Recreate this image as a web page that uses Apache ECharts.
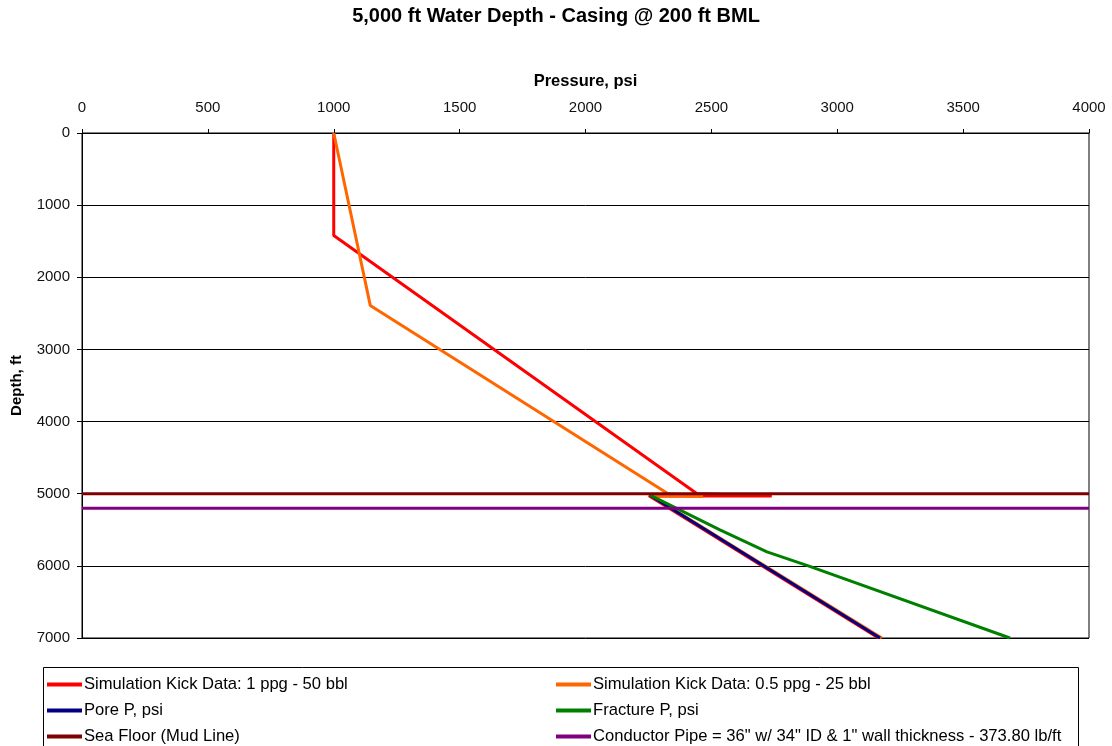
<!DOCTYPE html>
<html>
<head>
<meta charset="utf-8">
<script src="https://cdn.jsdelivr.net/npm/echarts@6/dist/echarts.min.js"></script>
<style>
  html, body { margin: 0; padding: 0; background: #fff; }
  #chart { width: 1112px; height: 746px; }
</style>
</head>
<body>
<div id="chart"></div>
<script>
// Pressure (psi) vs depth (ft) profiles
const kick1ppg = [[1000, 0], [1000, 1420], [2443, 5000], [2740, 5032], [2252, 5028], [3164, 7000]];
const kick05ppg = [[1000, 0], [1145, 2390], [2328, 5000], [2467, 5040], [2262, 5030], [3177, 7000]];
const porePressure = [[2256, 5020], [3170, 7000]];
const fracturePressure = [[2256, 5020], [2534, 5500], [2721, 5807], [2885, 6000], [3686, 7000]];
const seaFloor = [[0, 5000], [4000, 5000]];
const conductorPipe = [[0, 5200], [4000, 5200]];

const seriesNames = [
  'Simulation Kick Data: 1 ppg - 50 bbl',
  'Simulation Kick Data: 0.5 ppg - 25 bbl',
  'Pore P, psi',
  'Fracture P, psi',
  'Sea Floor (Mud Line)',
  'Conductor Pipe = 36" w/ 34" ID & 1" wall thickness - 373.80 lb/ft'
];
const seriesData = [kick1ppg, kick05ppg, porePressure, fracturePressure, seaFloor, conductorPipe];
const seriesColors = ['#ff0000', '#ff6600', '#000080', '#008000', '#800000', '#800080'];

const FONT = '"Liberation Sans", Arial, sans-serif';
const chart = echarts.init(document.getElementById('chart'), null, { renderer: 'canvas' });

// Legend: two columns, three rows, one entry per legend component
const legendRows = [676, 702, 728];
const legendCols = [47, 556];
const legends = seriesNames.map((name, i) => ({
  data: [name],
  left: legendCols[i % 2],
  top: legendRows[Math.floor(i / 2)],
  orient: 'horizontal',
  itemWidth: 35,
  itemHeight: 4,
  itemGap: 0,
  icon: 'rect',
  selectedMode: false,
  padding: 0,
  textStyle: { fontFamily: FONT, fontSize: 16.6, color: '#000', padding: [0, 0, 0, -3] }
}));

chart.setOption({
  animation: false,
  backgroundColor: '#fff',
  title: {
    text: '5,000 ft Water Depth - Casing @ 200 ft BML',
    left: 'center',
    top: 1,
    textStyle: { fontFamily: FONT, fontSize: 20, fontWeight: 'bold', color: '#000' }
  },
  grid: {
    left: 82, right: 23, top: 133, bottom: 108,
    show: true, borderColor: '#000', borderWidth: 1
  },
  legend: legends,
  graphic: [{
    type: 'rect',
    shape: { x: 43.5, y: 667.5, width: 1035, height: 100 },
    style: { fill: 'none', stroke: '#000', lineWidth: 1 },
    z: 0
  }],
  xAxis: {
    type: 'value',
    position: 'top',
    min: 0, max: 4000, interval: 500,
    name: 'Pressure, psi',
    nameLocation: 'middle',
    nameGap: 43,
    nameTextStyle: { fontFamily: FONT, fontSize: 16.5, fontWeight: 'bold', color: '#000' },
    axisLine: { show: true, lineStyle: { color: '#000', width: 1 } },
    axisTick: { show: true, inside: false, length: 4, lineStyle: { color: '#000' } },
    axisLabel: { fontFamily: FONT, fontSize: 15, color: '#111', margin: 18, formatter: v => String(v) },
    splitLine: { show: false }
  },
  yAxis: {
    type: 'value',
    inverse: true,
    min: 0, max: 7000, interval: 1000,
    name: 'Depth, ft',
    nameLocation: 'middle',
    nameGap: 58,
    nameRotate: 90,
    nameTextStyle: { fontFamily: FONT, fontSize: 15, fontWeight: 'bold', color: '#000' },
    axisLine: { show: true, onZero: false, lineStyle: { color: '#000', width: 1 } },
    axisTick: { show: true, inside: false, length: 5, lineStyle: { color: '#000' } },
    axisLabel: { fontFamily: FONT, fontSize: 15, color: '#111', margin: 12, formatter: v => String(v) },
    splitLine: { show: true, lineStyle: { color: '#000', width: 1 } }
  },
  series: seriesNames.map((name, i) => ({
    name: name,
    type: 'line',
    data: seriesData[i],
    showSymbol: false,
    symbol: 'none',
    color: seriesColors[i],
    lineStyle: { color: seriesColors[i], width: 3 },
    z: 2 + i
  }))
});
</script>
</body>
</html>
